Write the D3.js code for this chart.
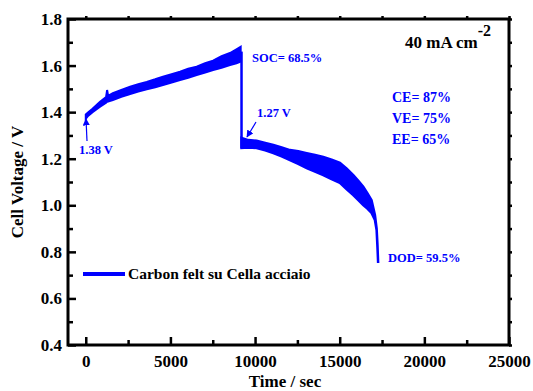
<!DOCTYPE html>
<html>
<head>
<meta charset="utf-8">
<script src="https://cdn.jsdelivr.net/npm/d3@7"></script>
<style>
  body { margin: 0; background: #fff; }
  text { font-family: "Liberation Serif", "Times New Roman", serif; font-weight: bold; }
</style>
</head>
<body>
<svg width="533" height="391"></svg>
<script>
// data (time in sec, voltage band low / high)
const chargeTime = [0, 150, 400, 845, 1200, 1260, 1320, 1600, 2100, 2620, 3100, 3600, 4100, 4560, 5070, 5570, 6050, 6550, 7050, 7520, 8020, 8520, 8900, 9150]
const chargeLow  = [1.372, 1.385, 1.40, 1.423, 1.44, 1.445, 1.446, 1.452, 1.466, 1.478, 1.488, 1.498, 1.507, 1.516, 1.527, 1.538, 1.548, 1.559, 1.57, 1.581, 1.591, 1.602, 1.61, 1.617]
const chargeHigh = [1.39, 1.40, 1.415, 1.445, 1.465, 1.495, 1.47, 1.482, 1.495, 1.509, 1.52, 1.53, 1.541, 1.552, 1.563, 1.574, 1.586, 1.595, 1.61, 1.621, 1.64, 1.654, 1.67, 1.681]

const dropTime = [9200, 9200]
const dropVolt = [1.66, 1.245]

const dischargeTime = [9200, 9600, 10090, 10600, 11080, 11570, 12060, 12550, 13050, 13540, 14030, 14520, 15010, 15400, 15800, 16100, 16390, 16650, 16880, 17080, 17180, 17230, 17270]
const dischargeLow  = [1.246, 1.248, 1.246, 1.236, 1.224, 1.21, 1.194, 1.178, 1.16, 1.145, 1.13, 1.112, 1.096, 1.07, 1.044, 1.022, 1.001, 0.985, 0.967, 0.937, 0.894, 0.82, 0.752]
const dischargeHigh = [1.289, 1.28, 1.277, 1.268, 1.259, 1.248, 1.237, 1.232, 1.224, 1.216, 1.208, 1.196, 1.182, 1.158, 1.13, 1.105, 1.08, 1.05, 1.022, 0.958, 0.90, 0.83, 0.752]

const xTicks = [0, 5000, 10000, 15000, 20000, 25000]
const yTicks = [0.4, 0.6, 0.8, 1.0, 1.2, 1.4, 1.6, 1.8]

const blue = "#0000ff"

const svg = d3.select("svg")
const plotLeft = 68, plotRight = 509, plotTop = 19, plotBottom = 345

const x = d3.scaleLinear().domain([-1050, 25000]).range([plotLeft, plotRight])
const y = d3.scaleLinear().domain([0.4, 1.8]).range([plotBottom, plotTop])

// curves
const band = d3.area()
  .x(d => x(d.t))
  .y0(d => y(d.lo))
  .y1(d => y(d.hi))

const charge = chargeTime.map((t, i) => ({t: t, lo: chargeLow[i], hi: chargeHigh[i]}))
const discharge = dischargeTime.map((t, i) => ({t: t, lo: dischargeLow[i], hi: dischargeHigh[i]}))

svg.append("path").datum(charge).attr("d", band)
  .attr("fill", blue).attr("stroke", blue).attr("stroke-width", 2)
svg.append("path").datum(discharge).attr("d", band)
  .attr("fill", blue).attr("stroke", blue).attr("stroke-width", 2.5)
svg.append("path")
  .datum(dropTime.map((t, i) => [t, dropVolt[i]]))
  .attr("d", d3.line().x(d => x(d[0])).y(d => y(d[1])))
  .attr("stroke", blue).attr("stroke-width", 2.5).attr("fill", "none")

// axes
const bottomAxis = svg.append("g").attr("transform", `translate(0,${plotBottom})`)
  .call(d3.axisBottom(x).tickValues(xTicks).tickSizeInner(-8).tickSizeOuter(0).tickFormat(d3.format("d")))
bottomAxis.selectAll("text").attr("y", 10).attr("font-size", 17).attr("fill", "#000")
bottomAxis.call(g => g.select(".domain").remove())
svg.append("g").attr("transform", `translate(0,${plotBottom})`)
  .call(d3.axisBottom(x).tickValues(d3.range(2500, 25000, 5000)).tickSizeInner(-5).tickSizeOuter(0).tickFormat(""))
  .call(g => g.select(".domain").remove())

const leftAxis = svg.append("g").attr("transform", `translate(${plotLeft},0)`)
  .call(d3.axisLeft(y).tickValues(yTicks).tickSizeInner(-8).tickSizeOuter(0).tickFormat(d3.format(".1f")))
leftAxis.selectAll("text").attr("x", -6).attr("font-size", 17).attr("fill", "#000")
leftAxis.call(g => g.select(".domain").remove())
svg.append("g").attr("transform", `translate(${plotLeft},0)`)
  .call(d3.axisLeft(y).tickValues(d3.range(0.5, 1.8, 0.2)).tickSizeInner(-5).tickSizeOuter(0).tickFormat(""))
  .call(g => g.select(".domain").remove())

// mirror ticks
svg.append("g").attr("transform", `translate(0,${plotTop})`)
  .call(d3.axisTop(x).tickValues(d3.range(0, 25001, 2500)).tickSizeInner(3).tickSizeOuter(0).tickFormat(""))
  .call(g => g.select(".domain").remove())
svg.append("g").attr("transform", `translate(${plotRight},0)`)
  .call(d3.axisRight(y).tickValues(d3.range(0.4, 1.81, 0.1)).tickSizeInner(3).tickSizeOuter(0).tickFormat(""))
  .call(g => g.select(".domain").remove())

svg.selectAll(".tick line").attr("stroke", "#000").attr("stroke-width", 2.5)

svg.append("rect")
  .attr("x", plotLeft).attr("y", plotTop)
  .attr("width", plotRight - plotLeft).attr("height", plotBottom - plotTop)
  .attr("fill", "none").attr("stroke", "#000").attr("stroke-width", 3)

// axis titles
svg.append("text").attr("x", 285).attr("y", 387).attr("text-anchor", "middle")
  .attr("font-size", 17).text("Time / sec")
svg.append("text").attr("transform", "translate(23,182) rotate(-90)").attr("text-anchor", "middle")
  .attr("font-size", 17).text("Cell Voltage / V")

// annotations
const cd = svg.append("text").attr("x", 405).attr("y", 48).attr("font-size", 17)
cd.append("tspan").text("40 mA cm")
cd.append("tspan").attr("dy", -12).attr("font-size", 16).text("-2")

svg.append("text").attr("x", 252).attr("y", 62).attr("font-size", 12.5).attr("fill", blue).text("SOC= 68.5%")
svg.append("text").attr("x", 257).attr("y", 117).attr("font-size", 12.5).attr("fill", blue).text("1.27 V")
svg.append("text").attr("x", 79).attr("y", 154).attr("font-size", 12.5).attr("fill", blue).text("1.38 V")
svg.append("text").attr("x", 388).attr("y", 262).attr("font-size", 12.5).attr("fill", blue).text("DOD= 59.5%")

const effLabels = ["CE= 87%", "VE= 75%", "EE= 65%"]
effLabels.forEach((s, i) => {
  svg.append("text").attr("x", 392).attr("y", 102 + i * 21).attr("font-size", 14).attr("fill", blue).text(s)
})

// arrows
svg.append("defs").append("marker")
  .attr("id", "head").attr("viewBox", "0 0 10 10").attr("refX", 9).attr("refY", 5)
  .attr("markerWidth", 6).attr("markerHeight", 6).attr("orient", "auto")
  .append("path").attr("d", "M0,0L10,5L0,10z").attr("fill", blue)
svg.append("line").attr("x1", 87).attr("y1", 141).attr("x2", 86).attr("y2", 119)
  .attr("stroke", blue).attr("stroke-width", 1.2).attr("marker-end", "url(#head)")
svg.append("line").attr("x1", 256).attr("y1", 122).attr("x2", 247).attr("y2", 137)
  .attr("stroke", blue).attr("stroke-width", 1.2).attr("marker-end", "url(#head)")

// legend
svg.append("line").attr("x1", 83).attr("x2", 125).attr("y1", 274).attr("y2", 274)
  .attr("stroke", blue).attr("stroke-width", 4)
svg.append("text").attr("x", 128).attr("y", 279).attr("font-size", 15.5).text("Carbon felt su Cella acciaio")
</script>
</body>
</html>
